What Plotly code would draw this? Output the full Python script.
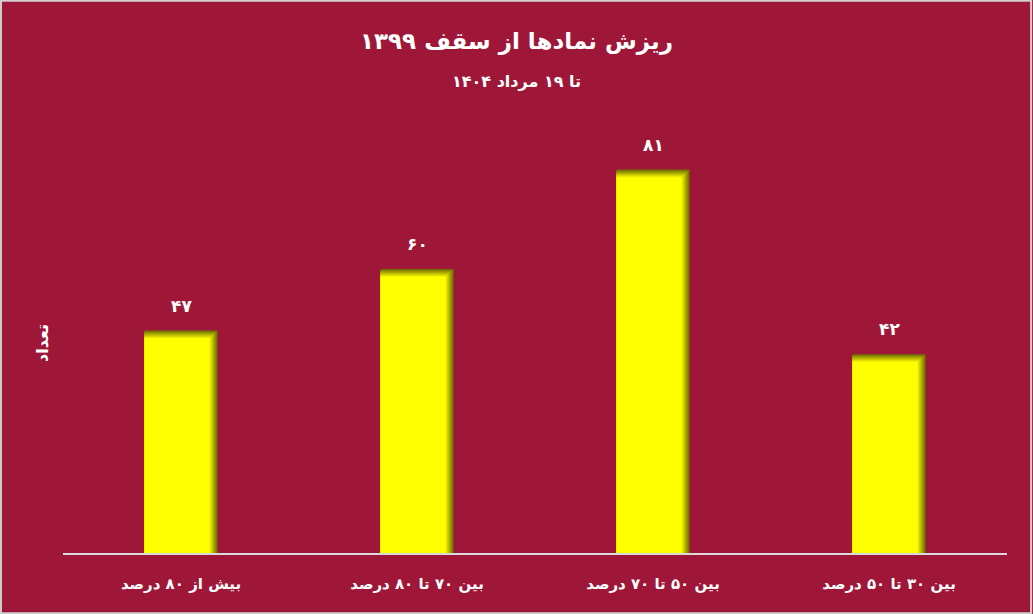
import plotly.graph_objects as go

categories = ["بیش از ۸۰ درصد", "بین ۷۰ تا ۸۰ درصد", "بین ۵۰ تا ۷۰ درصد", "بین ۳۰ تا ۵۰ درصد"]
values = [47, 60, 81, 42]
value_labels = ["۴۷", "۶۰", "۸۱", "۴۲"]
title_text = "ریزش نمادها از سقف ۱۳۹۹"
subtitle_text = "تا ۱۹ مرداد ۱۴۰۴"
y_title = "تعداد"

BG = "#9E1739"
FONT = "DejaVu Sans"
L, R, T, B = 63, 26, 127, 61
PW, PH = 1033 - L - R, 614 - T - B

fig = go.Figure()

W = 0.31
n_layers = 9
dw = 0.0042
dh = 0.2
for k in range(n_layers):
    t = k / (n_layers - 1)
    r = int(0x70 + (0xFF - 0x70) * t)
    g = int(0x70 + (0xFF - 0x70) * t)
    color = f"rgb({r},{g},0)"
    w = W - k * dw
    fig.add_trace(go.Bar(
        x=categories,
        y=[v - k * dh for v in values],
        width=w,
        offset=-W / 2,
        marker=dict(color=color, line=dict(width=0)),
        hoverinfo="skip",
        showlegend=False,
    ))

for c, v, lab in zip(categories, values, value_labels):
    fig.add_annotation(x=c, y=v, text=f"<b>{lab}</b>", showarrow=False,
                       yshift=25, font=dict(family=FONT, size=17, color="white"))

fig.add_annotation(xref="paper", yref="paper", x=(516 - L) / PW, y=1 + (T - 42) / PH,
                   text=f"<b>{title_text}</b>", showarrow=False, xanchor="center", yanchor="middle",
                   font=dict(family=FONT, size=23, color="white"))
fig.add_annotation(xref="paper", yref="paper", x=(516 - L) / PW, y=1 + (T - 81) / PH,
                   text=f"<b>{subtitle_text}</b>", showarrow=False, xanchor="center", yanchor="middle",
                   font=dict(family=FONT, size=16, color="white"))
fig.add_annotation(xref="paper", yref="paper", x=(42 - L) / PW, y=(614 - B - 343) / PH,
                   text=f"<b>{y_title}</b>", showarrow=False, textangle=-90,
                   xanchor="center", yanchor="middle",
                   font=dict(family=FONT, size=16, color="white"))

fig.update_layout(
    width=1033, height=614,
    paper_bgcolor=BG, plot_bgcolor=BG,
    barmode="overlay",
    margin=dict(l=L, r=R, t=T, b=B, autoexpand=False),
    xaxis=dict(showline=True, linecolor="#d9d9d9", linewidth=2, ticks="",
               tickmode="array", tickvals=categories,
               ticktext=[f"<b>{c}</b>" for c in categories],
               tickfont=dict(family=FONT, size=15, color="white"),
               ticklabelstandoff=16, automargin=False,
               showgrid=False, zeroline=False),
    yaxis=dict(range=[0, 90], showticklabels=False, showgrid=False, zeroline=False,
               showline=False, automargin=False),
)
fig.add_shape(type="rect", xref="paper", yref="paper", x0=-L / PW + 0.001, x1=1 + R / PW - 0.002,
              y0=-B / PH + 0.002, y1=1 + T / PH - 0.002, line=dict(color="#d0d0d0", width=2))

fig.write_html("out.html", config={"displayModeBar": False},
               post_script="document.body.style.margin='0';document.body.style.overflow='hidden';")
